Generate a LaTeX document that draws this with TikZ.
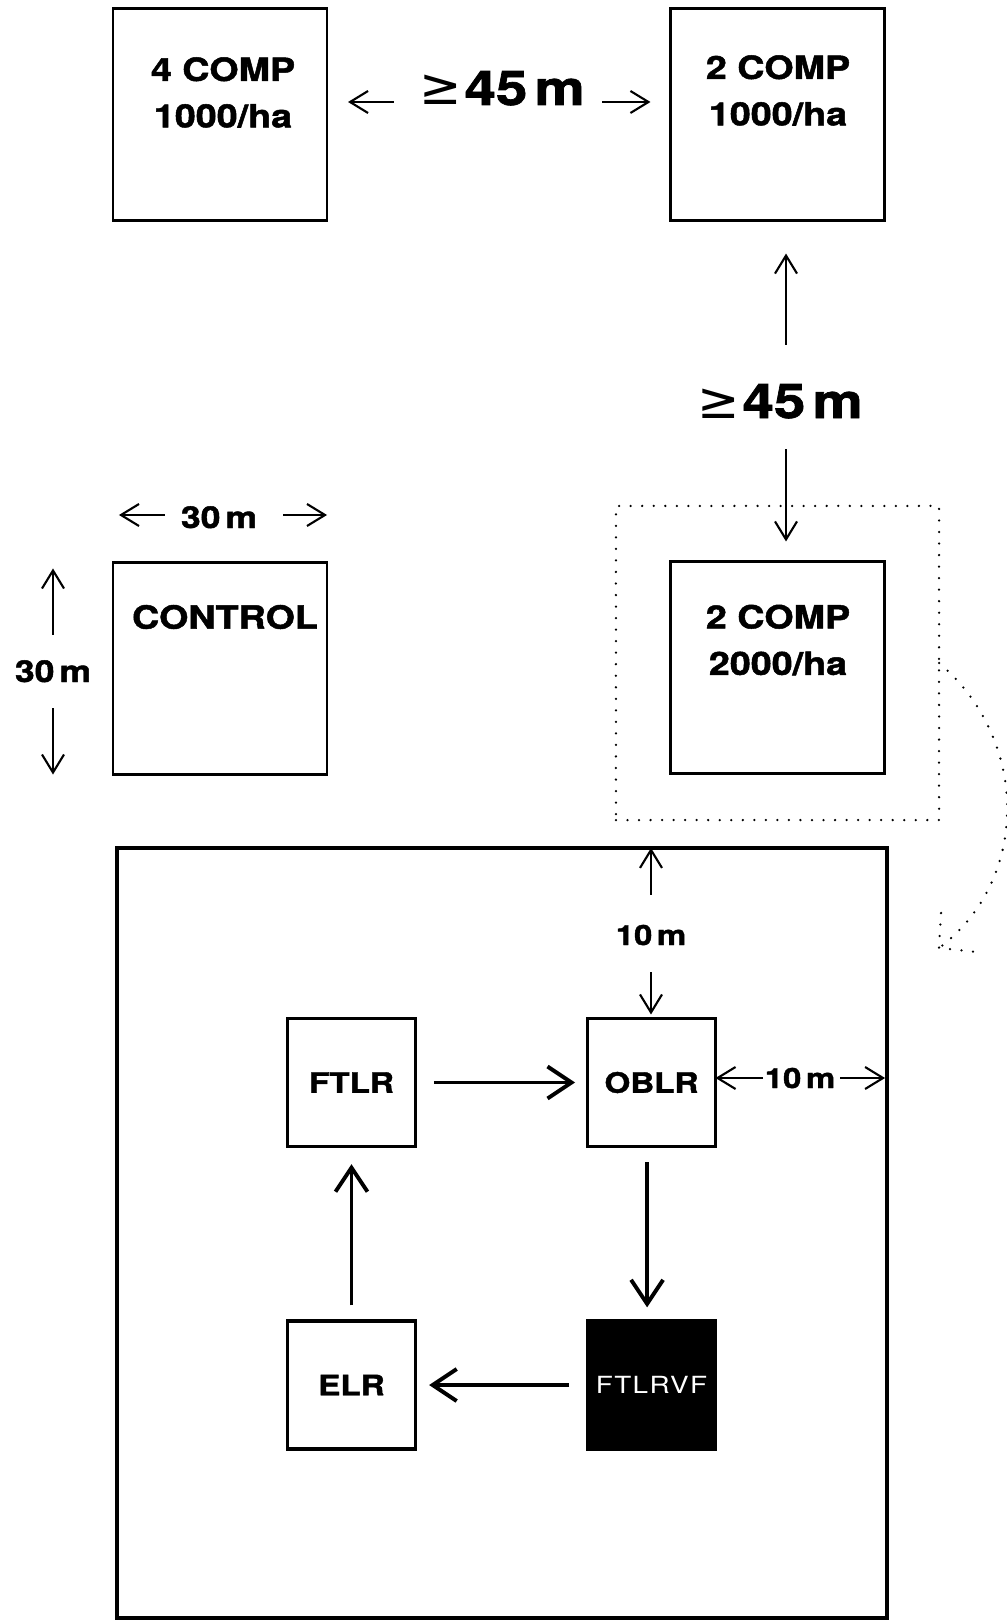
\documentclass[tikz,border=0pt]{standalone}
\usepackage{fontspec}
\setmainfont{TeX Gyre Heros}[FakeStretch=1.18,BoldFeatures={FakeBold=1.5}]
\newfontfamily\symfont{DejaVu Sans}
\usepackage{tikz}
\usetikzlibrary{arrows.meta,positioning,calc}

\newcommand{\gefortyfive}{{\symfont\mdseries\fontsize{36}{40}\selectfont ≥}\hspace{0.06em}45\hspace{0.15em}m}

\begin{document}
\begin{tikzpicture}[x=0.025cm,y=-0.025cm,
    plot/.style={draw,line width=1.6pt,minimum width=5.35cm,minimum height=5.3cm,inner sep=0pt,outer sep=0pt},
    buffer/.style={draw,line width=1.8pt,line cap=round,dash pattern=on 0pt off 8.2pt,minimum width=8.075cm,minimum height=7.85cm,inner sep=0pt,outer sep=0pt},
    dots/.style={line width=1.8pt,line cap=round,dash pattern=on 0pt off 8.2pt},
    subplotbox/.style={draw,line width=3.2pt,minimum size=19.25cm,inner sep=0pt,outer sep=0pt},
    treat/.style={draw,line width=2.8pt,minimum size=3.2cm,inner sep=0pt,outer sep=0pt,font=\bfseries\fontsize{20}{24}\selectfont},
    boxlbl/.style={align=center,inner sep=0pt,font=\bfseries\fontsize{22.7}{33}\selectfont},
    biglbl/.style={inner sep=0pt,anchor=base,font=\bfseries\fontsize{34}{40}\selectfont},
    dimlbl/.style={inner sep=0pt,anchor=base,font=\bfseries\fontsize{21.4}{26}\selectfont},
    smalllbl/.style={inner sep=0pt,anchor=base,font=\bfseries\fontsize{19.8}{24}\selectfont},
    dimarrow/.style={line width=1.5pt,-{Straight Barb[length=0.45cm,width=0.55cm]}},
    flow/.style={line width=2.8pt,-{Straight Barb[length=0.6cm,width=0.8cm]}}]
    \useasboundingbox (0,0) rectangle (1006,1622);

    % Plots
    \node[plot] (comp4) at (220,114.5) {};
    \node[plot] (comp2a) at (777.5,114.5) {};
    \node[plot] (control) at (220,668.5) {};
    \node[plot] (comp2b) at (777.5,667.5) {};
    \node[boxlbl] (comp4txt) at (223,92.5) {4 COMP\\1000/ha};
    \node[boxlbl] (comp2atxt) at (778,90.5) {2 COMP\\1000/ha};
    \node[boxlbl] (controltxt) at (225,617) {CONTROL};
    \node[boxlbl] (comp2btxt) at (778,640) {2 COMP\\2000/ha};

    % Distance between plots
    \node[biglbl] (d45top) at (502,105) {\gefortyfive};
    \draw[dimarrow,shorten <=2.7cm,shorten >=0.525cm] ([yshift=0.075cm]d45top.base) -- ([yshift=0.075cm]d45top.base -| comp4.east);
    \draw[dimarrow,shorten <=2.5cm,shorten >=0.5cm] ([yshift=0.075cm]d45top.base) -- ([yshift=0.075cm]d45top.base -| comp2a.west);

    \node[biglbl] (d45side) at (780,418) {\gefortyfive};
    \coordinate (vx) at ([xshift=0.15cm]d45side.base);
    \draw[dimarrow,shorten <=1.825cm,shorten >=0.825cm] (vx) -- (vx |- comp2a.south);
    \draw[dimarrow,shorten <=0.775cm,shorten >=0.5cm] (vx) -- (vx |- comp2b.north);

    % Plot size
    \node[dimlbl] (w30) at (219,528) {30\,m};
    \coordinate (hx) at ([yshift=0.325cm]w30.base);
    \draw[dimarrow,shorten <=1.35cm,shorten >=0.15cm] (hx) -- (hx -| control.west);
    \draw[dimarrow,shorten <=1.6cm] (hx) -- (hx -| control.east);

    \node[dimlbl] (h30) at (53,682) {30\,m};
    \draw[dimarrow,shorten <=1.175cm,shorten >=0.15cm] (h30.base) -- (h30.base |- control.north);
    \draw[dimarrow,shorten <=0.65cm] (h30.base) -- (h30.base |- control.south);

    % Buffer zone and zoom
    \node[buffer] (zone) at (777.5,663) {};
    \coordinate (zoomtip) at (939,948);
    \draw[dots] (zone.east) .. controls (1030,740) and (1030,880) .. (zoomtip);
    \draw[dots] (941,913) -- (zoomtip) -- (977,952);

    % Subplot layout
    \node[subplotbox] (subplot) at (502,1233) {};
    \node[treat] (ftlr) at (351.5,1082.5) {FTLR};
    \node[treat] (oblr) at (651.5,1082.5) {OBLR};
    \node[treat] (elr) at (351.5,1385) {ELR};
    \node[treat,fill=black,text=white,font=\fontsize{16.8}{20}\selectfont\addfontfeatures{LetterSpace=6}] (ftlrvf) at (651.5,1385) {FTLRVF};

    \draw[flow,shorten <=0.46cm,shorten >=0.31cm] (ftlr) -- (oblr);
    \draw[flow,shorten <=0.39cm,shorten >=0.34cm] ([xshift=-0.11cm]oblr.south) -- ([xshift=-0.11cm]ftlrvf.north);
    \draw[flow,shorten <=0.46cm,shorten >=0.34cm] (ftlrvf) -- (elr);
    \draw[flow,shorten <=0.39cm,shorten >=0.44cm] (elr) -- (ftlr);

    % Buffer widths
    \node[smalllbl] (b10top) at (651,945) {10\,m};
    \draw[dimarrow,shorten <=1.25cm] (b10top.base) -- (b10top.base |- subplot.north);
    \draw[dimarrow,shorten <=0.675cm,shorten >=0.1cm] (b10top.base) -- (b10top.base |- oblr.north);

    \node[smalllbl] (b10side) at (800,1088) {10\,m};
    \coordinate (sx) at ([yshift=0.25cm]b10side.base);
    \draw[dimarrow,shorten <=0.925cm] (sx) -- (sx -| oblr.east);
    \draw[dimarrow,shorten <=1cm,shorten >=0.05cm] (sx) -- (sx -| subplot.east);

\end{tikzpicture}
\end{document}
